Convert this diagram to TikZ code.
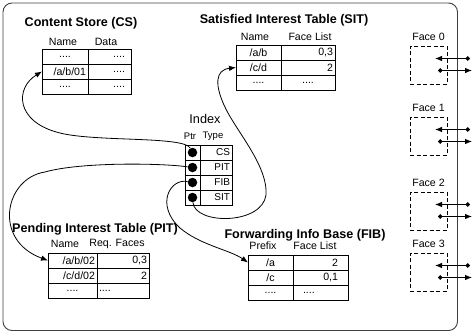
\documentclass[tikz,border=0pt]{standalone}
\usepackage{fontspec}
\setmainfont{Liberation Sans}
\usetikzlibrary{positioning,arrows.meta}

\begin{document}
\begin{tikzpicture}[x=1pt, y=-1pt,
    ttl/.style={inner sep=0pt, font=\fontsize{12.6}{15}\selectfont\bfseries},
    hdr/.style={inner sep=0pt, font=\fontsize{10.6}{13}\selectfont},
    smallhdr/.style={inner sep=0pt, font=\fontsize{9.5}{11}\selectfont},
    cell/.style={draw, line width=.9pt, outer sep=0pt, inner xsep=2pt, inner ysep=0pt, minimum height=15pt, font=\fontsize{10.6}{13}\selectfont},
    idxtype/.style={text width=28pt, align=right, font=\fontsize{10}{12}\selectfont},
    ptr/.style={circle, fill=black, inner sep=0pt, minimum size=9.5pt},
    link/.style={line width=.8pt, -{Latex[length=7pt, width=5.5pt]}},
    facebox/.style={draw, line width=.8pt, dash pattern=on 4pt off 2.5pt, minimum width=37pt, minimum height=38pt},
    io/.style={line width=.8pt, {Circle[length=4.5pt]}-{Latex[length=7pt, width=5.5pt]}}]
  \useasboundingbox (0,0) rectangle (474,335);

  % router frame
  \draw[line width=.9pt, black!75, rounded corners=9pt] (3,3) rectangle (457.5,330.5);

  % content store
  \node[ttl] (csName) at (81,23) {Content Store (CS)};
  \node[hdr] (csH1) at (63,41.5) {Name};
  \node[hdr] (csH2) at (106,41.5) {Data};
  \node[cell, text width=42pt, align=center] (cs11) at (65,56.5) {....};
  \node[cell, text width=31pt, inner xsep=6pt, align=right, right=0pt of cs11] (cs12) {....};
  \node[cell, text width=42pt, align=right, below=0pt of cs11] (cs21) {/a/b/01};
  \node[cell, text width=31pt, inner xsep=6pt, align=right, right=0pt of cs21] (cs22) {....};
  \node[cell, text width=42pt, align=center, below=0pt of cs21] (cs31) {....};
  \node[cell, text width=31pt, inner xsep=6pt, align=right, right=0pt of cs31] (cs32) {....};

  % satisfied interest table
  \node[ttl] (sitName) at (284,20) {Satisfied Interest Table (SIT)};
  \node[hdr] (sitH1) at (255,37) {Name};
  \node[hdr] (sitH2) at (310,37) {Face List};
  \node[cell, text width=41pt, align=center] (sit11) at (258.5,52.5) {/a/b};
  \node[cell, text width=50pt, align=right, right=0pt of sit11] (sit12) {0,3};
  \node[cell, text width=41pt, align=center, below=0pt of sit11] (sit21) {/c/d};
  \node[cell, text width=50pt, align=right, right=0pt of sit21] (sit22) {2};
  \node[cell, text width=41pt, align=center, below=0pt of sit21] (sit31) {....};
  \node[cell, text width=50pt, align=center, right=0pt of sit31] (sit32) {....};

  % index
  \node[inner sep=0pt, font=\fontsize{12.7}{15}\selectfont] (idxName) at (205,119) {Index};
  \node[smallhdr] (idxH1) at (190,136) {Ptr};
  \node[smallhdr] (idxH2) at (213,136) {Type};
  \foreach \t [count=\r from 0] in {CS,PIT,FIB,SIT} {
    \node[cell, text width=11pt] (idx\t) at (192.5,152.5+15*\r) {};
    \node[cell, idxtype, right=0pt of idx\t] (typ\t) {\t};
    \node[ptr] (d\t) at (idx\t) {};
  }

  % pending interest table
  \node[ttl] (pitName) at (95,229) {Pending Interest Table (PIT)};
  \node[hdr] (pitH1) at (65,244) {Name};
  \node[hdr] (pitH2) at (117,244) {Req. Faces};
  \node[cell, text width=45pt, align=right] (pit11) at (72.5,260.5) {/a/b/02};
  \node[cell, text width=48pt, align=right, right=0pt of pit11] (pit12) {0,3};
  \node[cell, text width=45pt, align=right, below=0pt of pit11] (pit21) {/c/d/02};
  \node[cell, text width=48pt, align=right, right=0pt of pit21] (pit22) {2};
  \node[cell, text width=45pt, align=center, below=0pt of pit21] (pit31) {....};
  \node[cell, text width=48pt, align=left, right=0pt of pit31] (pit32) {....};

  % forwarding info base
  \node[ttl] (fibName) at (305,235) {Forwarding Info Base (FIB)};
  \node[hdr] (fibH1) at (263,246) {Prefix};
  \node[hdr] (fibH2) at (315,246) {Face List};
  \node[cell, text width=41pt, align=center] (fib11) at (270.5,262.5) {/a};
  \node[cell, text width=35pt, inner xsep=10pt, align=right, right=0pt of fib11] (fib12) {2};
  \node[cell, text width=41pt, align=center, below=0pt of fib11] (fib21) {/c};
  \node[cell, text width=35pt, inner xsep=10pt, align=right, right=0pt of fib21] (fib22) {0,1};
  \node[cell, text width=41pt, align=center, below=0pt of fib21] (fib31) {....};
  \node[cell, text width=35pt, inner xsep=10pt, align=left, right=0pt of fib31] (fib32) {....};

  % pointers
  \draw[link] (dCS) .. controls (184,136) and (96,142) .. (60,133) .. controls (15,122) and (15,88) .. (cs21.west);
  \draw[link] (dPIT) .. controls (160,163) and (80,162) .. (45,172) .. controls (5,178) and (-8,240) .. (pit11.west);
  \draw[link] (dFIB) .. controls (170,178) and (155,205) .. (180,228) .. controls (200,245) and (230,250) .. (fib11.west);
  \draw[link] (dSIT) .. controls (195,225) and (262,225) .. (266,195) .. controls (268,165) and (235,130) .. (224,105) .. controls (215,85) and (215,70) .. (sit21.west);

  % faces
  \foreach \i/\y in {0/65, 1/136, 2/211, 3/272} {
    \node[facebox] (face\i) at (428.5,\y) {};
    \node[hdr, above=5pt of face\i] (flbl\i) {Face \i};
    \coordinate (fin\i) at (470,\y-6.5);
    \coordinate (finTip\i) at (435,\y-6.5);
    \coordinate (fout\i) at (438,\y+5.5);
    \coordinate (foutTip\i) at (472,\y+5.5);
    \draw[io] (fin\i) -- (finTip\i);
    \draw[io] (fout\i) -- (foutTip\i);
  }
\end{tikzpicture}
\end{document}
